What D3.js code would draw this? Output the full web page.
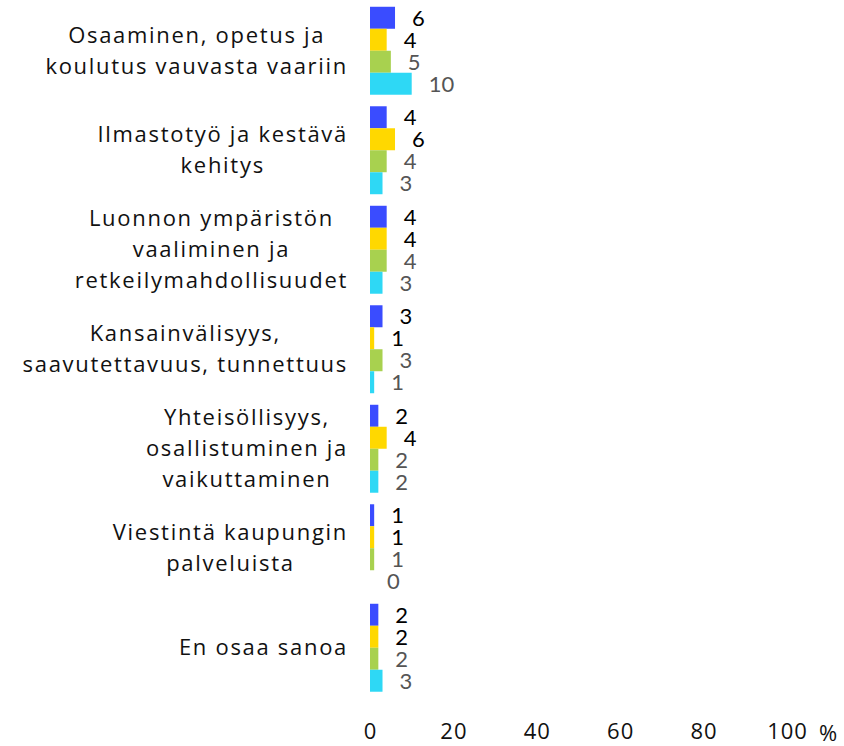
<!DOCTYPE html>
<html>
<head>
<meta charset="utf-8">
<script src="https://cdn.jsdelivr.net/npm/d3@7"></script>
<style>
  body { margin: 0; background: #fff; }
</style>
</head>
<body>
<svg width="844" height="746"></svg>
<script>
// categories, one label line per array entry
var categories = [
  ["Osaaminen, opetus ja", "koulutus vauvasta vaariin"],
  ["Ilmastotyö ja kestävä", "kehitys"],
  ["Luonnon ympäristön", "vaaliminen ja", "retkeilymahdollisuudet"],
  ["Kansainvälisyys,", "saavutettavuus, tunnettuus"],
  ["Yhteisöllisyys,", "osallistuminen ja", "vaikuttaminen"],
  ["Viestintä kaupungin", "palveluista"],
  ["En osaa sanoa"]
];
var series = ["Ryhmä 1", "Ryhmä 2", "Ryhmä 3", "Ryhmä 4"];
var values1 = [6, 4, 4, 3, 2, 1, 2];
var values2 = [4, 6, 4, 1, 4, 1, 2];
var values3 = [5, 4, 4, 3, 2, 1, 2];
var values4 = [10, 3, 3, 1, 2, 0, 3];
var xTicks = [0, 20, 40, 60, 80, 100];

var colors = ["#3a4cff", "#ffd800", "#a8d14f", "#2ed8f5"];
var labelColors = ["#000", "#000", "#555", "#555"];

var allValues = [values1, values2, values3, values4];
var catNames = categories.map(function(c) { return c.join(" "); });

var svg = d3.select("svg");

var x = d3.scaleLinear().domain([0, 100]).range([370, 787]);
var y = d3.scaleBand().domain(catNames).range([1, 697.5])
    .paddingInner(0.116).paddingOuter(0.058);
var ys = d3.scaleBand().domain(series).range([0, y.bandwidth()]);

// bars + value labels
var rows = [];
catNames.forEach(function(c, i) {
  series.forEach(function(s, j) {
    rows.push({cat: c, s: s, j: j, v: allValues[j][i]});
  });
});

svg.append("g").selectAll("rect")
  .data(rows)
  .enter().append("rect")
    .attr("x", x(0))
    .attr("y", function(d) { return y(d.cat) + ys(d.s); })
    .attr("width", function(d) { return x(d.v) - x(0); })
    .attr("height", ys.bandwidth())
    .attr("fill", function(d) { return colors[d.j]; });

svg.append("g")
    .attr("font-family", "Lato, sans-serif")
    .attr("font-size", 22)
  .selectAll("text")
  .data(rows)
  .enter().append("text")
    .attr("x", function(d) { return x(d.v) + 17; })
    .attr("y", function(d) { return y(d.cat) + ys(d.s) + ys.bandwidth() / 2; })
    .attr("dy", "0.36em")
    .attr("fill", function(d) { return labelColors[d.j]; })
    .text(function(d) { return d.v; });

// category labels: lines centred inside a block that is right aligned
var lineH = 31;
var labels = svg.append("g")
    .attr("font-family", "'Open Sans', sans-serif")
    .attr("font-size", 22)
    .attr("letter-spacing", 1.7)
    .attr("fill", "#111")
  .selectAll("g")
  .data(categories)
  .enter().append("g");

labels.each(function(lines, i) {
  var g = d3.select(this);
  var cy = y(catNames[i]) + y.bandwidth() / 2;
  var t = g.selectAll("text").data(lines).enter().append("text")
      .attr("text-anchor", "middle")
      .attr("y", function(d, k) { return cy + (k - (lines.length - 1) / 2) * lineH; })
      .attr("dy", "0.35em")
      .text(function(d) { return d; });
  var maxW = 0;
  t.each(function() { maxW = Math.max(maxW, this.getComputedTextLength()); });
  t.attr("x", 348 - maxW / 2);
});

// x axis (no line, no ticks)
var axis = svg.append("g")
    .attr("transform", "translate(0,731)")
    .call(d3.axisBottom(x).tickValues(xTicks).tickSize(0).tickPadding(0));
axis.select(".domain").remove();
axis.selectAll("text")
    .attr("dy", "0.35em")
    .attr("font-family", "'Open Sans', sans-serif")
    .attr("font-size", 22)
    .attr("letter-spacing", 1)
    .attr("fill", "#111");

svg.append("text")
    .attr("x", 819)
    .attr("y", 733)
    .attr("dy", "0.35em")
    .attr("font-family", "'Open Sans', sans-serif")
    .attr("font-size", 22)
    .attr("fill", "#111")
    .text("%");
</script>
</body>
</html>
